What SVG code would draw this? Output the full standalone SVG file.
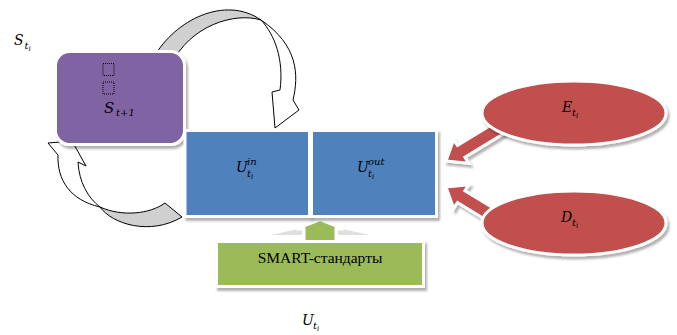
<svg xmlns="http://www.w3.org/2000/svg" width="677" height="335" viewBox="0 0 677 335">
  <style>
    .m { font-family: "DejaVu Serif", "Liberation Serif", serif; font-style: italic; fill: #000; }
    .b { font-size: 14px; }
    .s { font-size: 10px; }
    .ss { font-size: 7px; }
    .curl { stroke: #000; stroke-width: 1; stroke-linejoin: round; }
    .plate { stroke: #fff; stroke-width: 3; }
  </style>
  <defs>
    <filter id="shadow" x="-10%" y="-10%" width="125%" height="130%">
      <feDropShadow dx="2" dy="3" stdDeviation="1.2" flood-color="#000" flood-opacity="0.3"/>
    </filter>
  </defs>

  <rect width="677" height="335" fill="#fff"/>

  <!-- connectors -->
  <g id="connectors">
    <!-- loop from S box into U box -->
    <g id="loop-top">
      <path class="curl" fill="#fff" d="M261,20 C275,35 284,60 280,90 L272,92 L275,128 L299,110 L293,100 C299,75 298,45 261,20 Z"/>
      <path class="curl" fill="#d0d0d0" d="M154,57 C175,20 225,-5 261,20 C235,12 190,25 171,65 Z"/>
    </g>
    <!-- loop from U box back into S box -->
    <g id="loop-bottom">
      <path class="curl" fill="#fff" d="M100,207 C70,200 57,180 58,155 L48,143 L72,141 L86,166 L78,162 C79,182 88,198 100,207 Z"/>
      <path class="curl" fill="#d0d0d0" d="M165,203 C150,214 122,217 100,207 C112,224 150,236 182,217 Z"/>
    </g>
    <!-- E and D into U^out -->
    <polygon class="plate" filter="url(#shadow)" fill="#c0504d" points="498.1,120.8 457.5,145.5 453.7,139.6 446,161 468.7,163.2 464.9,157.3 505.5,132.6"/>
    <polygon class="plate" filter="url(#shadow)" fill="#c0504d" points="498.1,227.2 457.5,202.5 453.7,208.4 446,187 468.7,184.8 464.9,190.7 505.5,215.4"/>
    <!-- standards into U -->
    <polygon fill="#b8b8b8" opacity="0.45" points="271,235 302,228 302,235"/>
    <polygon fill="#b8b8b8" opacity="0.45" points="338,228 370,235 338,235"/>
    <polygon class="plate" fill="#9bbb59" points="304,246 304,229 296,229 320,219.5 344,229 336,229 336,246"/>
  </g>

  <!-- S box -->
  <g id="node-s">
    <rect class="plate" filter="url(#shadow)" x="55.5" y="51.5" width="129" height="93" rx="14" fill="#8064a2"/>
    <rect x="103" y="63.5" width="11" height="12" fill="none" stroke="#000" stroke-width="1" stroke-dasharray="1 1"/>
    <rect x="103" y="82" width="11" height="12" fill="none" stroke="#000" stroke-width="1" stroke-dasharray="1 1"/>
    <text class="m" x="104" y="113" font-size="15">S</text>
    <text class="m s" x="116" y="116">t+1</text>
  </g>

  <!-- U^in box -->
  <g id="node-u-in">
    <rect class="plate" filter="url(#shadow)" x="185" y="130.5" width="124.5" height="86" fill="#4f81bd"/>
    <text class="m b" x="236" y="172">U</text>
    <text class="m s" x="247" y="165">in</text>
    <text class="m s" x="247" y="177">t</text>
    <text class="m ss" x="251" y="179">i</text>
  </g>

  <!-- U^out box -->
  <g id="node-u-out">
    <rect class="plate" filter="url(#shadow)" x="311.5" y="130.5" width="125" height="86" fill="#4f81bd"/>
    <text class="m b" x="357" y="172">U</text>
    <text class="m s" x="368" y="165">out</text>
    <text class="m s" x="368" y="177">t</text>
    <text class="m ss" x="372" y="179">i</text>
  </g>

  <!-- standards box -->
  <g id="node-smart">
    <rect class="plate" filter="url(#shadow)" x="216.5" y="241.5" width="207" height="45" fill="#9bbb59"/>
    <text x="320" y="262.5" font-family="Liberation Serif, serif" font-size="15.5" text-anchor="middle" fill="#000">SMART-стандарты</text>
  </g>

  <!-- E ellipse -->
  <g id="node-e">
    <ellipse class="plate" filter="url(#shadow)" cx="574" cy="113" rx="92" ry="32" fill="#c0504d"/>
    <text class="m" x="562" y="112" font-size="14">E</text>
    <text class="m s" x="572" y="116">t</text>
    <text class="m ss" x="576" y="118">i</text>
  </g>

  <!-- D ellipse -->
  <g id="node-d">
    <ellipse class="plate" filter="url(#shadow)" cx="574" cy="223" rx="92" ry="32" fill="#c0504d"/>
    <text class="m" x="561" y="222" font-size="14">D</text>
    <text class="m s" x="572" y="226">t</text>
    <text class="m ss" x="576" y="228">i</text>
  </g>

  <!-- free labels -->
  <g id="label-s">
    <text class="m b" x="14" y="45">S</text>
    <text class="m s" x="24.5" y="49">t</text>
    <text class="m ss" x="28.5" y="51">i</text>
  </g>
  <g id="label-u">
    <text class="m b" x="302" y="325">U</text>
    <text class="m s" x="313" y="329">t</text>
    <text class="m ss" x="317" y="331">i</text>
  </g>
</svg>
